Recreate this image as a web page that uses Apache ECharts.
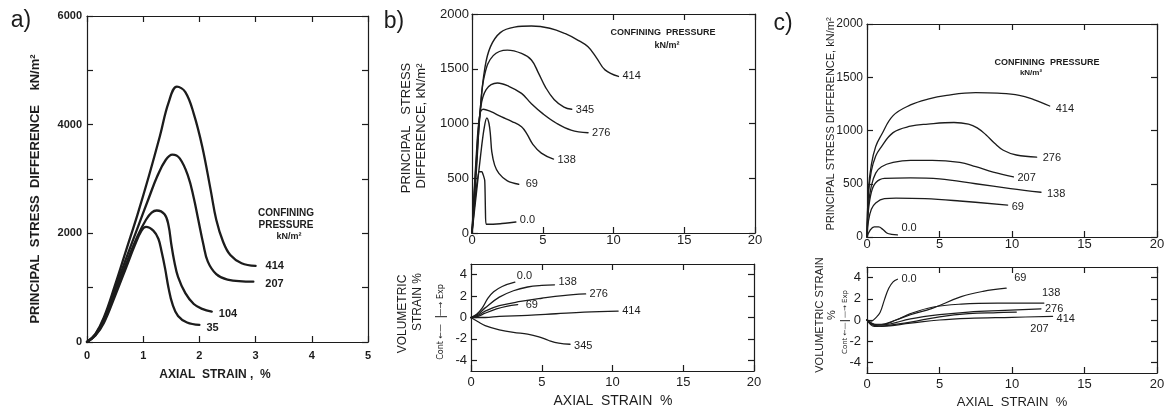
<!DOCTYPE html>
<html><head><meta charset="utf-8">
<script src="https://cdn.jsdelivr.net/npm/echarts@6/dist/echarts.min.js"></script>
<style>html,body{margin:0;padding:0;background:#fff}#c{width:1169px;height:412px}</style>
</head><body><div id="c"></div><script>
// ---------- Panel a: principal stress difference vs axial strain ----------
const a414 = [[0,0],[0.15,150],[0.3,450],[0.5,1050],[0.7,1700],[0.9,2350],[1.1,3050],[1.3,3800],[1.45,4400],[1.6,4700],[1.75,4600],[1.9,4200],[2.05,3600],[2.2,2800],[2.3,2250],[2.42,1850],[2.55,1600],[2.75,1450],[3.0,1400]];
const a207 = [[0,0],[0.15,140],[0.3,420],[0.5,980],[0.7,1550],[0.9,2100],[1.1,2650],[1.25,3050],[1.4,3350],[1.52,3450],[1.65,3380],[1.8,3050],[1.9,2650],[1.98,2250],[2.07,1800],[2.15,1480],[2.3,1250],[2.5,1150],[2.96,1110]];
const a104 = [[0,0],[0.15,130],[0.3,380],[0.5,900],[0.7,1450],[0.9,1950],[1.05,2250],[1.15,2380],[1.24,2420],[1.38,2350],[1.45,2150],[1.5,1800],[1.55,1500],[1.62,1200],[1.75,900],[1.9,700],[2.05,610],[2.22,560]];
const a35  = [[0,0],[0.15,120],[0.3,350],[0.5,850],[0.7,1380],[0.85,1780],[0.97,2050],[1.05,2120],[1.18,2050],[1.27,1900],[1.33,1650],[1.39,1350],[1.45,1000],[1.52,700],[1.62,480],[1.78,360],[2.0,315]];
// ---------- Panel b (top): stress ----------
const b414 = [[0,0],[0.3,600],[0.6,1150],[0.9,1500],[1.3,1700],[2,1830],[3,1880],[4.2,1890],[5.5,1870],[6.6,1820],[7.5,1760],[8.2,1700],[8.8,1600],[9.4,1490],[10.35,1430]];
const b345 = [[0,0],[0.3,550],[0.6,1150],[0.9,1450],[1.5,1620],[2.5,1670],[3.5,1640],[4.2,1580],[4.7,1460],[5.2,1330],[5.8,1220],[6.5,1150],[7.05,1130]];
const b276 = [[0,0],[0.3,650],[0.6,1130],[1.0,1310],[1.8,1370],[2.6,1340],[3.5,1275],[4.2,1180],[5,1090],[6,1000],[7,940],[8.2,915]];
const b138 = [[0,0],[0.3,700],[0.55,1080],[0.8,1130],[1.3,1110],[2.1,1060],[2.8,1020],[3.5,970],[3.9,900],[4.3,810],[4.9,730],[5.76,675]];
const b69  = [[0,0],[0.3,350],[0.6,700],[0.85,950],[1.05,1050],[1.2,1000],[1.3,900],[1.4,740],[1.6,620],[1.9,545],[2.5,475],[3.3,445]];
const b00  = [[0,0],[0.25,350],[0.5,560],[0.7,560],[0.9,480],[0.95,200],[1.0,80],[2,85],[3.1,100]];
// ---------- Panel b (bottom): volumetric strain ----------
const bv00  = [[0,0],[0.4,0.3],[0.8,0.9],[1.2,1.8],[1.6,2.4],[2.2,2.9],[3.1,3.3]];
const bv138 = [[0,0],[0.5,0.3],[1.0,0.9],[2.0,1.9],[3.0,2.5],[4.0,2.85],[5.0,3.0],[5.9,3.05]];
const bv276 = [[0,0],[0.5,0.2],[1.0,0.6],[2.0,1.1],[3.5,1.5],[5,1.8],[6.5,2.05],[8.1,2.2]];
const bv69  = [[0,0],[0.5,0.1],[1.0,0.4],[1.8,0.8],[2.5,1.05],[3.3,1.2]];
const bv414 = [[0,0],[1,0],[2,0.1],[4,0.2],[6,0.35],[8,0.5],[10.4,0.6]];
const bv345 = [[0,0],[0.5,-0.4],[1,-0.75],[2,-1.15],[3,-1.4],[4,-1.55],[4.8,-1.8],[5.5,-2.15],[6.2,-2.4],[7.0,-2.5]];
// ---------- Panel c (top): stress ----------
const c414 = [[0,0],[0.1,450],[0.3,680],[0.6,850],[1,960],[1.8,1140],[3,1240],[4.2,1295],[5.5,1330],[7.5,1355],[9,1350],[10.5,1330],[11.5,1290],[12.6,1230]];
const c276 = [[0,0],[0.1,400],[0.3,620],[0.6,760],[0.9,830],[1.8,980],[3,1040],[4.2,1060],[6,1075],[7,1060],[7.6,1025],[8.2,960],[8.8,880],[9.4,815],[10.3,770],[11.7,750]];
const c207 = [[0,0],[0.1,300],[0.3,480],[0.6,600],[1,660],[1.8,700],[3,720],[4.5,720],[6.4,700],[7.5,660],[8.7,610],[10.1,565]];
const c138 = [[0,0],[0.1,250],[0.3,420],[0.6,510],[1.2,550],[3,555],[5,545],[7.5,500],[9.9,455],[12,420]];
const c69  = [[0,0],[0.1,150],[0.3,260],[0.6,320],[1.2,360],[2,365],[4,360],[6.4,338],[9.7,300]];
const c00  = [[0,0],[0.2,60],[0.5,95],[0.8,95],[1.1,70],[1.4,35],[1.7,25],[2.1,20]];
// ---------- Panel c (bottom): volumetric strain ----------
const cv00  = [[0,0],[0.3,-0.1],[0.6,0.2],[0.9,0.7],[1.2,1.9],[1.5,3.0],[1.8,3.6],[2.1,3.85]];
const cv69  = [[0,0],[0.5,-0.4],[1,-0.4],[2,0],[3,0.5],[4.5,1.1],[6.5,2.2],[8,2.7],[9.6,3.0]];
const cv138 = [[0,0],[0.5,-0.4],[1,-0.45],[2,0],[3,0.6],[4.5,1.2],[6.5,1.5],[9,1.6],[12.2,1.6]];
const cv276 = [[0,0],[0.5,-0.5],[1.5,-0.4],[3,0.1],[5,0.5],[7,0.75],[9.5,0.9],[12,1.05]];
const cv414 = [[0,0],[0.5,-0.5],[1,-0.6],[3,-0.3],[5,0],[7,0.15],[10,0.25],[12.8,0.35]];
const cv207 = [[0,0],[0.5,-0.6],[1.5,-0.5],[3,-0.2],[5,0.3],[7,0.6],[9,0.7],[10.3,0.75]];
// tick labels
const aYLabels = [0,2000,4000,6000];
const volLabels = [-4,-2,0,2,4];

const INK = '#1c1c1c';
const FF = 'Liberation Sans';
const grids = [
  {left:87, top:16, width:281, height:326},
  {left:472, top:14, width:283, height:219},
  {left:471, top:264, width:283, height:107},
  {left:867, top:24, width:290, height:213},
  {left:867, top:267, width:290, height:106}
];
const lineS = {color:INK, width:1.2};
const plain = function (v) { return String(v); };
const xAxes = [], yAxes = [];
function addAxes(gi, xr, yr, o) {
  const lab = {color:INK, fontFamily:o.ff||FF, fontSize:o.fs||12, fontWeight:o.fw||'normal', formatter:plain};
  xAxes.push({gridIndex:gi, type:'value', min:xr[0], max:xr[1], interval:xr[2], position:'bottom',
    axisLine:{onZero:false, lineStyle:lineS}, axisTick:{inside:true, length:6, lineStyle:lineS},
    axisLabel:Object.assign({margin:o.xm||4}, lab, {fontSize:o.xfs||o.fs||12}), splitLine:{show:false}});
  xAxes.push({gridIndex:gi, type:'value', min:xr[0], max:xr[1], interval:xr[2], position:'top',
    axisLine:{onZero:false, lineStyle:lineS}, axisTick:{inside:true, length:6, lineStyle:lineS},
    axisLabel:{show:false}, splitLine:{show:false}});
  const yl = {gridIndex:gi, type:'value', min:yr[0], max:yr[1], position:'left',
    axisLine:{onZero:false, lineStyle:lineS}, axisTick:{inside:true, length:6, lineStyle:lineS},
    axisLabel:Object.assign({margin:o.ym||4}, lab), splitLine:{show:false}};
  const yr2 = {gridIndex:gi, type:'value', min:yr[0], max:yr[1], position:'right',
    axisLine:{onZero:false, lineStyle:lineS}, axisTick:{inside:true, length:6, lineStyle:lineS},
    axisLabel:{show:false}, splitLine:{show:false}};
  if (yr[2]) { yl.interval = yr[2]; yr2.interval = yr[2]; }
  if (o.ylabels) { yl.axisLabel.customValues = o.ylabels; }
  if (o.yticks) { yl.axisTick.customValues = o.yticks; yr2.axisTick.customValues = o.yticks; }
  yAxes.push(yl, yr2);
}
addAxes(0, [0,5,1], [0,6000,1000], {fs:11, fw:'bold', xm:8, ym:5, ylabels:aYLabels});
addAxes(1, [0,20,5], [0,2000,500], {fs:13, xm:1, ym:3});
addAxes(2, [0,20,5], [-5,5,0], {fs:13, xm:5, ym:4, ylabels:volLabels, yticks:volLabels});
addAxes(3, [0,20,5], [0,2000,500], {fs:12, xfs:13, xm:1, ym:4});
addAxes(4, [0,20,5], [-5,5,0], {fs:13, xm:5, ym:6, ylabels:volLabels, yticks:volLabels});

const series = [];
function S(gi, name, data, lw, off, sm, fs, fw) {
  series.push({type:'line', name:name, xAxisIndex:2*gi, yAxisIndex:2*gi, data:data,
    symbol:'none', showSymbol:false, smooth:sm, silent:true,
    lineStyle:{color:INK, width:lw, join:'round', cap:'round'},
    endLabel:{show:true, formatter:function(){return name;}, offset:off||[0,0], distance:4,
      color:INK, fontFamily:FF, fontSize:fs||11, fontWeight:fw||'normal'}});
}
S(0,'414',a414,2.3,[6,0],0.4,11,'bold');
S(0,'207',a207,2.3,[8,2],0.4,11,'bold');
S(0,'104',a104,2.3,[3,2],0.4,11,'bold');
S(0,'35',a35,2.3,[3,3],0.4,11,'bold');
S(1,'414',b414,1.4,[0,0],0.4);
S(1,'345',b345,1.4,[0,1],0.4);
S(1,'276',b276,1.4,[0,0],0.4);
S(1,'138',b138,1.4,[0,1],0.4);
S(1,'69',b69,1.4,[3,0],0.35);
S(1,'0.0',b00,1.4,[0,-2],0.12);
S(2,'0.0',bv00,1.3,[-2,-6],0.4);
S(2,'138',bv138,1.3,[0,-3],0.4);
S(2,'276',bv276,1.3,[0,0],0.4);
S(2,'69',bv69,1.3,[4,0],0.4);
S(2,'414',bv414,1.3,[0,0],0.4);
S(2,'345',bv345,1.3,[0,2],0.4);
S(3,'414',c414,1.3,[2,3],0.4);
S(3,'276',c276,1.3,[2,1],0.4);
S(3,'207',c207,1.3,[0,1],0.4);
S(3,'138',c138,1.3,[2,2],0.4);
S(3,'69',c69,1.3,[0,2],0.4);
S(3,'0.0',c00,1.3,[0,-7],0.4);
S(4,'0.0',cv00,1.2,[0,0],0.4);
S(4,'69',cv69,1.2,[4,-10],0.4);
S(4,'138',cv138,1.2,[-6,-10],0.4);
S(4,'276',cv276,1.2,[0,0],0.4);
S(4,'414',cv414,1.2,[0,3],0.4);
S(4,'207',cv207,1.2,[10,17],0.4);

function T(text, x, y, size, o) {
  o = o || {};
  return {type:'text', x:x, y:y, rotation:o.rot||0, silent:true, z:10,
    style:{text:text, fontSize:size, fontFamily:o.ff||FF, fontWeight:o.fw||'normal', fill:INK,
      textAlign:o.align||'center', textVerticalAlign:'middle', align:o.align||'center', verticalAlign:'middle'}};
}
const R = Math.PI/2;
const graphic = [
  T('a)', 21, 21, 23),
  T('b)', 394, 22, 23),
  T('c)', 783, 24, 23),
  // panel a
  T('PRINCIPAL  STRESS  DIFFERENCE    kN/m²', 35, 189, 13, {rot:R, fw:'bold'}),
  T('AXIAL  STRAIN ,  %', 215, 375, 12, {fw:'bold'}),
  T('CONFINING', 286, 213, 10, {fw:'bold'}),
  T('PRESSURE', 286, 225, 10, {fw:'bold'}),
  T('kN/m²', 289, 237, 9, {fw:'bold'}),
  // panel b
  T('PRINCIPAL   STRESS', 406, 128, 13, {rot:R}),
  T('DIFFERENCE, kN/m²', 421, 126, 13, {rot:R}),
  T('CONFINING  PRESSURE', 663, 33, 9, {fw:'bold'}),
  T('kN/m²', 667, 46, 9, {fw:'bold'}),
  T('VOLUMETRIC', 403, 314, 12, {rot:R}),
  T('STRAIN %', 418, 302, 12, {rot:R}),
  T('Cont ←—   —→ Exp', 441, 322, 8, {rot:R, ff:'DejaVu Sans'}),
  {type:'line', shape:{x1:435, y1:316.7, x2:447, y2:316.7}, style:{stroke:INK, lineWidth:1}, silent:true},
  T('AXIAL  STRAIN  %', 613, 401, 14),
  // panel c
  T('PRINCIPAL STRESS DIFFERENCE, kN/m²', 831, 124, 11, {rot:R}),
  T('CONFINING  PRESSURE', 1047, 63, 9, {fw:'bold'}),
  T('kN/m²', 1031, 73, 8, {fw:'bold'}),
  T('VOLUMETRIC STRAIN', 820, 315, 11, {rot:R}),
  T('%', 832, 315, 11, {rot:R}),
  T('Cont ←—  —→ Exp', 845, 322, 7, {rot:R, ff:'DejaVu Sans'}),
  {type:'line', shape:{x1:840, y1:320.7, x2:850, y2:320.7}, style:{stroke:INK, lineWidth:1}, silent:true},
  T('AXIAL  STRAIN  %', 1012, 402, 13)
];

const chart = echarts.init(document.getElementById('c'), null, {renderer:'canvas'});
chart.setOption({
  animation:false, backgroundColor:'#fff',
  grid:grids, xAxis:xAxes, yAxis:yAxes, series:series, graphic:graphic
});
</script></body></html>
